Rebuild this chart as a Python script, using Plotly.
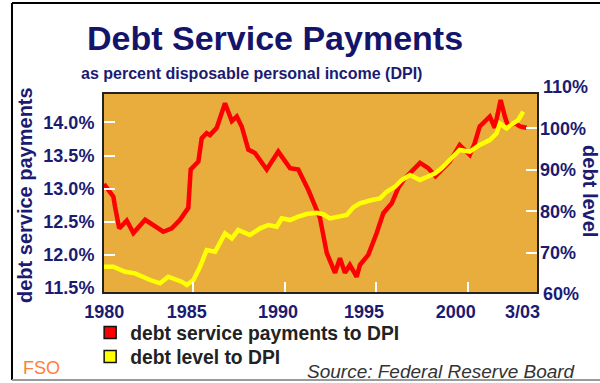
import plotly.graph_objects as go

# Debt service payments as % of disposable personal income (left axis)
dsr_year = [1980.17, 1980.68, 1980.77, 1981.00, 1981.41, 1981.77, 1982.41, 1982.86,
            1983.40, 1983.86, 1984.31, 1984.76, 1984.89, 1985.31, 1985.49, 1985.76,
            1985.94, 1986.31, 1986.76, 1987.13, 1987.40, 1987.67, 1988.03, 1988.39,
            1989.03, 1989.66, 1990.30, 1990.75, 1991.30, 1991.75, 1991.93, 1992.30,
            1992.75, 1993.02, 1993.29, 1993.56, 1993.93, 1994.11, 1994.56, 1995.02,
            1995.38, 1995.84, 1996.19, 1996.56, 1996.93, 1997.38, 1997.83, 1998.22,
            1999.00, 1999.54, 2000.09, 2000.36, 2000.63, 2000.90, 2001.18, 2001.45,
            2001.63, 2001.77, 2002.00, 2002.18, 2002.55, 2002.82, 2003.18]
dsr_value = [13.07, 12.88, 12.73, 12.40, 12.52, 12.33, 12.53, 12.45,
             12.35, 12.40, 12.53, 12.71, 13.29, 13.41, 13.76, 13.84,
             13.81, 13.92, 14.29, 14.02, 14.09, 13.94, 13.59, 13.54,
             13.29, 13.56, 13.31, 13.29, 12.98, 12.68, 12.56, 12.03,
             11.73, 11.95, 11.73, 11.85, 11.67, 11.85, 12.00, 12.33,
             12.63, 12.78, 13.01, 13.16, 13.26, 13.39, 13.31, 13.19,
             13.41, 13.66, 13.51, 13.69, 13.94, 14.02, 14.09, 13.92,
             14.12, 14.34, 14.09, 13.94, 13.99, 13.94, 13.92]

# Household debt level as % of DPI (right axis)
debt_year = [1980.17, 1980.68, 1981.32, 1981.86, 1982.68, 1983.22, 1983.67, 1984.40,
             1984.68, 1985.04, 1985.40, 1985.76, 1986.22, 1986.76, 1987.13, 1987.48,
             1988.12, 1988.67, 1989.12, 1989.58, 1989.85, 1990.30, 1990.75, 1991.21,
             1991.75, 1992.11, 1992.47, 1992.84, 1993.39, 1993.75, 1994.11, 1994.76,
             1995.20, 1995.56, 1996.02, 1996.38, 1996.83, 1997.38, 1997.74, 1998.20,
             1998.55, 1999.00, 1999.54, 2000.09, 2000.63, 2001.18, 2001.55, 2001.73,
             2002.09, 2002.45, 2002.73, 2003.00]
debt_value = [66.65, 66.65, 65.45, 65.06, 63.45, 62.65, 64.24, 63.04,
              62.24, 63.45, 66.65, 70.67, 70.27, 74.70, 73.49, 75.49,
              74.29, 75.90, 76.70, 76.29, 78.31, 77.90, 78.70, 79.35,
              79.66, 79.30, 78.31, 78.70, 79.10, 80.96, 81.93, 82.72,
              83.13, 84.73, 85.93, 87.54, 88.75, 87.54, 88.34, 89.16,
              90.36, 92.36, 94.77, 94.36, 95.98, 97.18, 98.80, 101.20,
              100.00, 101.20, 102.00, 104.00]

# Axis labelling
x_label_pos = [1980.18, 1984.68, 1989.65, 1994.33, 1999.32, 2002.96]
x_label_text = ["1980", "1985", "1990", "1995", "2000", "3/03"]
x_tick_marks = [1985, 1990, 1995, 2000]
left_label_vals = [11.5, 12.0, 12.5, 13.0, 13.5, 14.0]
left_tick_marks = [12.0, 12.5, 13.0, 13.5, 14.0]
right_tick_vals = [70, 80, 90, 100]
right_extra_labels = [60, 110]

X_RANGE = [1980.17, 2003.75]
Y_RANGE = [11.44, 14.43]
Y2_RANGE = [60.56, 108.27]

NAVY = "#1b1b72"
GOLD = "#E8AD3C"
FONT = "Liberation Sans, Arial, sans-serif"

fig = go.Figure()

fig.add_trace(go.Scatter(x=dsr_year, y=dsr_value, mode="lines",
                         line=dict(color="#FF0000", width=4.5),
                         showlegend=False, yaxis="y"))
fig.add_trace(go.Scatter(x=debt_year, y=debt_value, mode="lines",
                         line=dict(color="#FFFF00", width=4.5),
                         showlegend=False, yaxis="y2"))

# legend swatches, one legend box per entry
fig.add_trace(go.Scatter(x=[None], y=[None], mode="markers",
                         name="debt service payments to DPI", legend="legend",
                         marker=dict(symbol="square", size=12, color="#FF0000",
                                     line=dict(color="#111", width=1.5))))
fig.add_trace(go.Scatter(x=[None], y=[None], mode="markers",
                         name="debt level to DPI", legend="legend2",
                         marker=dict(symbol="square", size=12, color="#FFFF00",
                                     line=dict(color="#111", width=1.5))))

tick_font = dict(family=FONT, size=18, color=NAVY, weight="bold")
legend_font = dict(family=FONT, size=19.3, color="#222", weight="bold")


def y2_paper(v):
    """Position of a right-axis value in paper units."""
    return (v - Y2_RANGE[0]) / (Y2_RANGE[1] - Y2_RANGE[0])


annotations = [
    dict(text="Debt Service Payments", x=0.395, y=1.283, xref="paper", yref="paper",
         showarrow=False, xanchor="center", yanchor="middle",
         font=dict(family=FONT, size=34, color="#14146b", weight="bold")),
    dict(text="as percent disposable personal income (DPI)", x=0.3395, y=1.106,
         xref="paper", yref="paper", showarrow=False, xanchor="center", yanchor="middle",
         font=dict(family=FONT, size=16, color=NAVY, weight="bold")),
    dict(text="debt service payments", x=-0.1824, y=0.49, xref="paper", yref="paper",
         showarrow=False, textangle=-90, xanchor="center", yanchor="middle",
         font=dict(family=FONT, size=20, color=NAVY, weight="bold")),
    dict(text="debt level", x=1.121, y=0.5076, xref="paper", yref="paper",
         showarrow=False, textangle=90, xanchor="center", yanchor="middle",
         font=dict(family=FONT, size=20, color=NAVY, weight="bold")),
    dict(text="Source: Federal Reserve Board", x=1.0947, y=-0.404, xref="paper",
         yref="paper", showarrow=False, xanchor="right", yanchor="middle",
         font=dict(family=FONT, size=19, color="#333333", style="italic")),
    dict(text="FSO", x=-0.1432, y=-0.3838, xref="paper", yref="paper",
         showarrow=False, xanchor="center", yanchor="middle",
         font=dict(family=FONT, size=18, color="#FF7F3A")),
]
for v in right_extra_labels:
    annotations.append(dict(text=f"{v}%", x=1, y=y2_paper(v), xref="paper",
                            yref="paper", xshift=4, showarrow=False,
                            xanchor="left", yanchor="middle", font=tick_font))

frame = dict(xref="paper", yref="paper", type="line")
shapes = [
    dict(frame, x0=-0.2125, x1=-0.2125, y0=-0.4444, y1=1.4596,
         line=dict(color="#000", width=2)),
    dict(frame, x0=-0.2125, x1=1.2, y0=1.4596, y1=1.4596,
         line=dict(color="#000", width=2)),
    dict(frame, x0=-0.2125, x1=1.2, y0=-0.4444, y1=-0.4444,
         line=dict(color="#9a9a9a", width=2)),
]

legend_common = dict(x=-0.032, xanchor="left", yanchor="middle", font=legend_font,
                     bgcolor="rgba(0,0,0,0)", itemwidth=30)

fig.update_layout(
    width=600, height=383,
    margin=dict(l=104, r=63, t=94, b=91, autoexpand=False),
    paper_bgcolor="white",
    plot_bgcolor=GOLD,
    font=dict(family=FONT),
    xaxis=dict(range=X_RANGE, tickmode="array", tickvals=x_label_pos,
               ticktext=x_label_text, ticks="", tickfont=tick_font,
               ticklabelstandoff=2,
               showgrid=False, zeroline=False, showline=True, mirror=True,
               linecolor="#222", linewidth=2,
               minor=dict(tickmode="array", tickvals=x_tick_marks, ticks="inside",
                          ticklen=10, tickwidth=2, tickcolor="white", showgrid=False)),
    yaxis=dict(range=Y_RANGE, tickmode="array", tickvals=left_label_vals,
               ticktext=[f"{v:.1f}%" for v in left_label_vals], ticks="",
               tickfont=tick_font, ticklabelstandoff=4,
               showgrid=False, zeroline=False, showline=True, mirror=True,
               linecolor="#222", linewidth=2,
               minor=dict(tickmode="array", tickvals=left_tick_marks, ticks="inside",
                          ticklen=11, tickwidth=2, tickcolor="white", showgrid=False)),
    yaxis2=dict(range=Y2_RANGE, overlaying="y", side="right",
                tickmode="array", tickvals=right_tick_vals,
                ticktext=[f"{v}%" for v in right_tick_vals],
                ticks="inside", ticklen=11, tickwidth=2, tickcolor="white",
                tickfont=tick_font, ticklabelstandoff=2,
                showgrid=False, zeroline=False, showline=False),
    legend=dict(legend_common, y=-0.207),
    legend2=dict(legend_common, y=-0.328),
    annotations=annotations,
    shapes=shapes,
)

fig.write_html("out.html")
